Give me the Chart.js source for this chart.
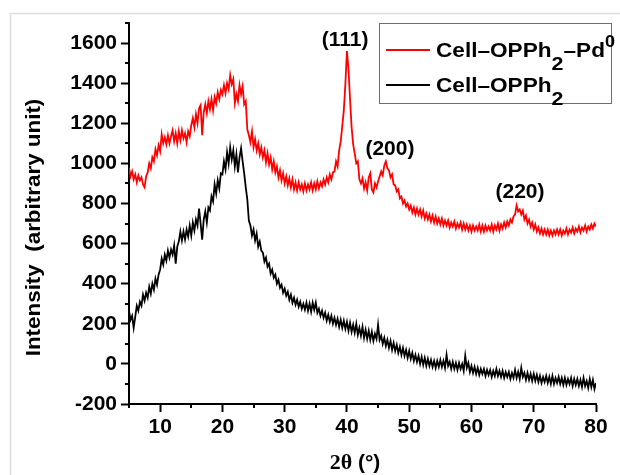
<!DOCTYPE html>
<html><head><meta charset="utf-8">
<script src="https://cdn.jsdelivr.net/npm/chart.js@4/dist/chart.umd.min.js"></script>
<style>html,body{margin:0;padding:0;background:#fff;}#wrap{width:620px;height:475px;position:relative;}</style>
</head><body><div id="wrap"><canvas id="c" width="620" height="475"></canvas></div>
<script>
// ---- data (2θ grid: 5° to 80° every 0.25°) ----
const twoThetaStart = 5;
const twoThetaStep = 0.25;

// Cell–OPPh2–Pd0 (red)
const pdIntensity = [
 980,935,960,920, 945,905,940,915, 930,895,880,935, 955,1000,975,1030, 1010,1070,1040,1090,
 1060,1145,1100,1130, 1095,1140,1100,1135, 1165,1110,1150,1100, 1160,1115,1165,1125, 1150,1105,1160,1135,
 1190,1225,1180,1245, 1200,1275,1290,1140, 1255,1295,1250,1310, 1270,1320,1265,1330, 1300,1355,1320,1365,
 1345,1390,1350,1400, 1370,1440,1395,1420, 1300,1345,1310,1390, 1345,1385,1295,1310, 1170,1140,1105,1160,
 1080,1120,1065,1100, 1045,1080,1030,1065, 1005,1050,995,1030, 970,1010,955,985, 930,965,915,950,
 900,935,890,925, 880,920,870,905, 865,905,870,895, 860,900,865,895, 870,905,865,900,
 870,910,875,905, 885,920,895,930, 905,945,920,955, 960,1010,985,1065, 1110,1185,1265,1395,
 1560,1470,1320,1180, 1095,1050,1000,1010, 920,900,925,875, 905,865,930,950, 870,855,900,880,
 910,935,960,940, 990,1010,975,965, 930,945,895,890, 860,870,825,835, 800,815,785,800,
 770,790,755,780, 745,775,745,770, 735,765,725,750, 720,745,710,740, 705,735,700,725,
 695,725,690,715, 690,715,680,705, 685,710,675,700, 680,705,670,700, 670,695,665,690,
 660,690,665,685, 665,695,660,690, 660,690,665,685, 665,695,660,690, 670,700,665,695,
 675,705,680,710, 690,720,705,735, 745,790,760,770, 745,765,720,740, 700,720,685,705,
 670,695,660,680, 650,675,645,670, 645,670,640,665, 640,665,645,670, 645,670,640,665,
 650,675,645,670, 655,680,650,675, 660,685,655,680, 665,690,660,685, 670,695,675,700,
 685
];

// Cell–OPPh2 (black)
const cellIntensity = [
 265,220,240,180, 235,290,265,310, 290,345,315,355, 330,385,350,400, 370,425,395,445,
 470,525,495,545, 515,565,530,570, 545,590,500,585, 610,660,615,660, 620,670,635,690,
 640,705,665,720, 690,775,700,620, 720,760,705,780, 765,835,810,895, 850,915,875,950,
 945,1010,970,1055, 1000,1080,1020,1065, 985,1045,955,1030, 1075,1010,950,880, 820,715,690,640,
 670,615,650,585, 610,565,555,510, 530,485,500,450, 470,430,445,400, 420,380,395,355,
 375,340,360,320, 345,305,330,295, 320,285,310,275, 300,270,305,265, 300,260,305,270,
 305,255,275,240, 265,230,255,215, 245,210,240,200, 230,195,225,185, 220,180,215,175,
 210,165,205,160, 195,155,200,145, 180,140,185,130, 170,125,165,120, 160,115,150,125,
 195,120,140,100, 130,90,120,80, 115,70,105,65, 95,55,85,45, 80,40,70,30,
 65,25,55,15, 45,10,40,0, 35,-5,30,-10, 25,-10,20,-15, 15,-20,15,-15,
 20,-15,15,-20, 45,-10,10,-25, 10,-25,5,-30, 5,-25,0,-35, 40,-20,5,-40,
 -10,-45,-15,-50, -20,-55,-25,-50, -25,-60,-30,-55, -30,-65,-35,-60, -25,-60,-35,-65,
 -35,-70,-40,-65, -40,-75,-45,-70, -30,-70,-40,-75, -20,-65,-45,-80, -45,-80,-50,-85,
 -50,-85,-55,-90, -60,-95,-65,-90, -60,-95,-65,-100, -60,-100,-70,-95, -65,-100,-70,-105,
 -70,-105,-75,-100, -70,-110,-75,-105, -75,-110,-80,-115, -70,-110,-85,-120, -75,-115,-80,-125,
 -95
];

const xMajorTicks = [10,20,30,40,50,60,70,80];
const xMinorTicks = [5,15,25,35,45,55,65,75];
const yMajorTicks = [-200,0,200,400,600,800,1000,1200,1400,1600];
const yMinorTicks = [-100,100,300,500,700,900,1100,1300,1500,1700];

// legend entries as rich text pieces (n = normal, sub = subscript, sup = superscript)
const legendRed = [['Cell–OPPh','n'],['2','sub'],['–Pd','n'],['0','sup']];
const legendBlack = [['Cell–OPPh','n'],['2','sub']];

const peakLabels = ['(111)','(200)','(220)'];
const peakLabelX = [39.7, 46.9, 67.8];
const peakLabelY = [1612, 1071, 854];

const xTitle = ['2θ', ' (°)'];
const yTitle = 'Intensity  (arbitrary unit)';

// ---- build ----
const twoTheta = pdIntensity.map((_, i) => twoThetaStart + i * twoThetaStep);
const toXY = arr => arr.map((v, i) => ({x: twoTheta[i], y: v}));

const SANS = '"Liberation Sans", Arial, sans-serif';
const SERIF = '"Liberation Serif", "Times New Roman", serif';

function drawRich(ctx, parts, x, y, stretch) {
  let cx = x;
  for (const [t, kind] of parts) {
    let size = 20, dy = 0;
    if (kind === 'sub') { size = 19; dy = 13; }
    if (kind === 'sup') { size = 16; dy = -10; }
    ctx.font = 'bold ' + size + 'px ' + SANS;
    ctx.save();
    ctx.translate(cx, y + dy);
    ctx.scale(stretch, 1);
    ctx.fillText(t, 0, 0);
    ctx.restore();
    cx += ctx.measureText(t).width * stretch;
  }
}

const decor = {
  id: 'decor',
  beforeDraw(chart) {
    const ctx = chart.ctx;
    ctx.save();
    ctx.fillStyle = '#fff';
    ctx.fillRect(0, 0, chart.width, chart.height);
    ctx.strokeStyle = '#dcdcdc';
    ctx.lineWidth = 1.5;
    ctx.beginPath();
    ctx.moveTo(10.5, chart.height);
    ctx.lineTo(10.5, 13.5);
    ctx.lineTo(chart.width, 13.5);
    ctx.stroke();
    ctx.restore();
  },
  afterDraw(chart) {
    const ctx = chart.ctx;
    const xs = chart.scales.x, ys = chart.scales.y, a = chart.chartArea;
    ctx.save();
    // minor ticks
    ctx.strokeStyle = '#000';
    ctx.lineWidth = 2;
    ctx.beginPath();
    for (const v of xMinorTicks) { const p = Math.round(xs.getPixelForValue(v)); ctx.moveTo(p, a.bottom); ctx.lineTo(p, a.bottom + 4); }
    for (const v of yMinorTicks) { const p = Math.round(ys.getPixelForValue(v)); ctx.moveTo(a.left, p); ctx.lineTo(a.left - 4, p); }
    ctx.stroke();

    // axis titles
    ctx.fillStyle = '#000';
    ctx.textBaseline = 'alphabetic';
    ctx.save();
    ctx.translate(40, (a.top + a.bottom) / 2 + 14);
    ctx.rotate(-Math.PI / 2);
    ctx.scale(1.12, 1);
    ctx.font = 'bold 20px ' + SANS;
    ctx.textAlign = 'center';
    ctx.fillText(yTitle, 0, 0);
    ctx.restore();

    ctx.textAlign = 'left';
    ctx.font = 'bold 22px ' + SERIF;
    const w1 = ctx.measureText(xTitle[0]).width;
    ctx.font = 'bold 21px ' + SANS;
    const w2 = ctx.measureText(xTitle[1]).width;
    const x0 = 355 - (w1 + w2) / 2;
    ctx.font = 'bold 22px ' + SERIF;
    ctx.fillText(xTitle[0], x0, 469);
    ctx.font = 'bold 21px ' + SANS;
    ctx.fillText(xTitle[1], x0 + w1, 469);

    // peak labels
    ctx.font = 'bold 21px ' + SANS;
    ctx.textAlign = 'center';
    ctx.textBaseline = 'middle';
    peakLabels.forEach((t, i) => {
      ctx.fillText(t, xs.getPixelForValue(peakLabelX[i]), ys.getPixelForValue(peakLabelY[i]));
    });

    // legend
    ctx.fillStyle = '#fff';
    ctx.fillRect(379.5, 23.5, 232, 80);
    ctx.strokeStyle = '#6e6e6e';
    ctx.lineWidth = 1;
    ctx.strokeRect(379.5, 23.5, 232, 80);
    ctx.lineWidth = 2;
    ctx.strokeStyle = '#ff0000';
    ctx.beginPath(); ctx.moveTo(386, 50); ctx.lineTo(430, 50); ctx.stroke();
    ctx.strokeStyle = '#000';
    ctx.beginPath(); ctx.moveTo(386, 85); ctx.lineTo(430, 85); ctx.stroke();
    ctx.fillStyle = '#000';
    ctx.textAlign = 'left';
    ctx.textBaseline = 'alphabetic';
    drawRich(ctx, legendRed, 436, 57, 1.13);
    drawRich(ctx, legendBlack, 436, 92, 1.13);
    ctx.restore();
  }
};

new Chart(document.getElementById('c'), {
  type: 'line',
  data: {
    datasets: [
      { label: 'Cell–OPPh2–Pd0', data: toXY(pdIntensity), borderColor: '#ff0000', borderWidth: 1.8, pointRadius: 0, tension: 0, fill: false },
      { label: 'Cell–OPPh2', data: toXY(cellIntensity), borderColor: '#000000', borderWidth: 1.8, pointRadius: 0, tension: 0, fill: false }
    ]
  },
  options: {
    responsive: false,
    animation: false,
    events: [],
    layout: { padding: { top: 23, right: 24, left: 0, bottom: 0 } },
    plugins: { legend: { display: false }, tooltip: { enabled: false }, title: { display: false } },
    scales: {
      x: {
        type: 'linear', min: 5, max: 80,
        afterBuildTicks: s => { s.ticks = xMajorTicks.map(v => ({value: v})); },
        afterFit: s => { s.height = 71; },
        ticks: { color: '#000', font: { family: SANS, size: 21, weight: 'bold' }, padding: 3, maxRotation: 0, autoSkip: false, callback: v => String(v) },
        grid: { drawOnChartArea: false, drawTicks: true, tickLength: 8, tickWidth: 2, tickColor: '#000' },
        border: { color: '#000', width: 2 }
      },
      y: {
        type: 'linear', min: -200, max: 1700,
        afterBuildTicks: s => { s.ticks = yMajorTicks.map(v => ({value: v})); },
        afterFit: s => { s.width = 129; },
        ticks: { color: '#000', font: { family: SANS, size: 21, weight: 'bold' }, padding: 4, autoSkip: false, callback: v => String(v) },
        grid: { drawOnChartArea: false, drawTicks: true, tickLength: 8, tickWidth: 2, tickColor: '#000' },
        border: { color: '#000', width: 2 }
      }
    }
  },
  plugins: [decor]
});
</script>
</body></html>
